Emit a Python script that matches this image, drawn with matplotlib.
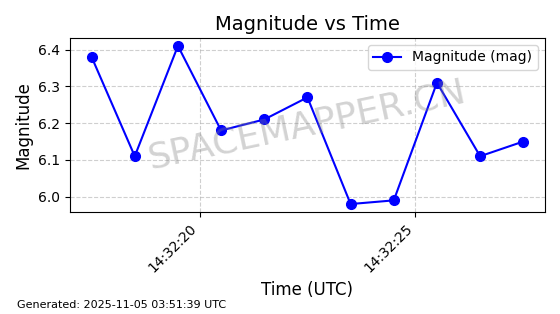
import matplotlib
matplotlib.use("Agg")
import matplotlib.pyplot as plt
import matplotlib.dates as mdates
import pandas as pd

# observation times (UTC) and magnitudes
times = ["2025-11-05 14:32:17.5", "2025-11-05 14:32:18.5", "2025-11-05 14:32:19.5",
         "2025-11-05 14:32:20.5", "2025-11-05 14:32:21.5", "2025-11-05 14:32:22.5",
         "2025-11-05 14:32:23.5", "2025-11-05 14:32:24.5", "2025-11-05 14:32:25.5",
         "2025-11-05 14:32:26.5", "2025-11-05 14:32:27.5"]
magnitudes = [6.38, 6.11, 6.41, 6.18, 6.21, 6.27, 5.98, 5.99, 6.31, 6.11, 6.15]

t = pd.to_datetime(times)

fig, ax = plt.subplots(figsize=(5.6, 3.14), dpi=100)
fig.subplots_adjust(left=0.125, right=0.973, top=0.879, bottom=0.325)

ax.plot(t, magnitudes, color="blue", marker="o", markersize=7, linewidth=1.5,
        label="Magnitude (mag)")

ax.set_title("Magnitude vs Time", fontsize=14)
ax.set_xlabel("Time (UTC)", fontsize=12)
ax.set_ylabel("Magnitude", fontsize=12)
ax.grid(True, linestyle="--", color="#b0b0b0", alpha=0.6)
ax.legend(loc="upper right", fontsize=10)

ax.xaxis.set_major_locator(mdates.SecondLocator(bysecond=range(0, 60, 5)))
ax.xaxis.set_major_formatter(mdates.DateFormatter("%H:%M:%S"))
plt.setp(ax.get_xticklabels(), rotation=45, ha="right")

# watermark
ax.text(0.5, 0.5, "SPACEMAPPER.CN", transform=ax.transAxes, fontsize=26,
        color="gray", alpha=0.35, rotation=12, ha="center", va="center")

fig.text(0.03, 0.02, "Generated: 2025-11-05 03:51:39 UTC", fontsize=8)

fig.savefig("out.png", dpi=100)
